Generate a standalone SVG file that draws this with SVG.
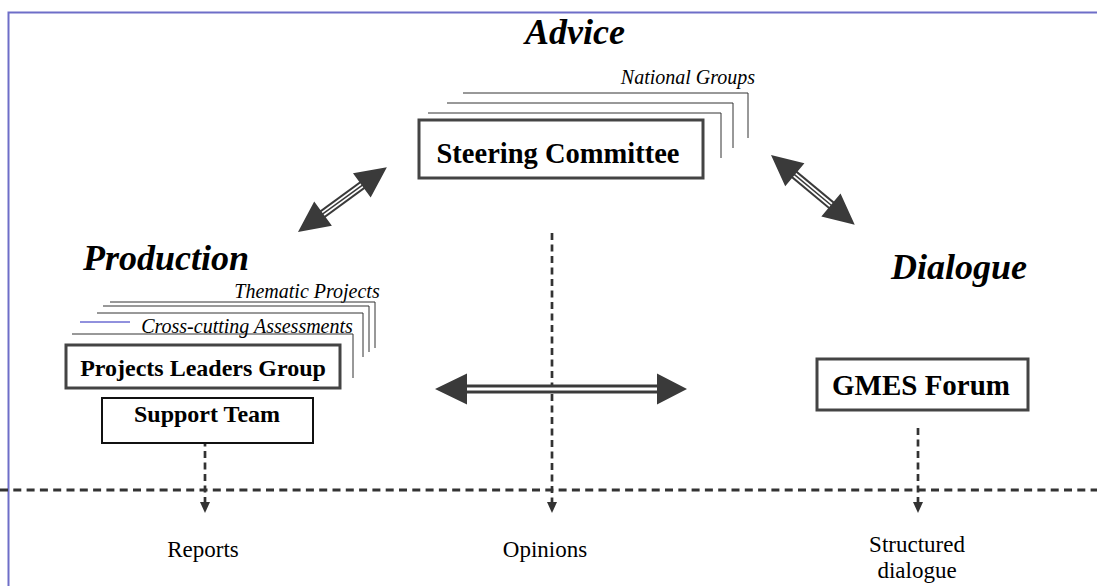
<svg xmlns="http://www.w3.org/2000/svg" width="1097" height="586" viewBox="0 0 1097 586">
<style>
.frame{stroke:#6e6ec8;stroke-width:2;fill:none}
.box{fill:#fff;stroke:#444;stroke-width:3}
.box2{fill:#fff;stroke:#111;stroke-width:2}
.stack{fill:none;stroke:#333;stroke-width:1}
.head{fill:#3a3a3a}
.shaftO{stroke:#3a3a3a;stroke-width:9;fill:none}
.shaftI{stroke:#fff;stroke-width:5;fill:none}
.shaftC{stroke:#3a3a3a;stroke-width:1.5;fill:none}
.dash{stroke:#333;stroke-width:2.7;stroke-dasharray:7,4.5;fill:none}
.hdash{stroke:#333;stroke-width:3;stroke-dasharray:8,5.3;fill:none}
.title{font-family:"Liberation Serif",serif;font-weight:bold;font-style:italic;font-size:36px;fill:#000}
.ital{font-family:"Liberation Serif",serif;font-style:italic;font-size:20px;fill:#000}
.bold{font-family:"Liberation Serif",serif;font-weight:bold;fill:#000}
.reg{font-family:"Liberation Serif",serif;font-size:23px;fill:#000}
</style>
<defs>
<path id="smallhead" d="M-5,-11 L5,-11 L0,0 Z" fill="#333"/>
</defs>
<path class="frame" d="M8.5,586 V12.5 H1097"/>
<g id="connectors">
  <line class="hdash" x1="0" y1="490" x2="1097" y2="490"/>
  <line class="dash" x1="205" y1="428" x2="205" y2="503"/>
  <use href="#smallhead" x="205" y="513"/>
  <line class="dash" x1="552" y1="233" x2="552" y2="503"/>
  <use href="#smallhead" x="552" y="513"/>
  <line class="dash" x1="918" y1="428" x2="918" y2="503"/>
  <use href="#smallhead" x="918" y="513"/>
  <g id="arrow-left-diag" transform="translate(298,232) rotate(-36.1)">
    <line class="shaftO" x1="30" y1="0" x2="80" y2="0"/>
    <line class="shaftI" x1="29" y1="0" x2="81" y2="0"/>
    <line class="shaftC" x1="29" y1="0" x2="81" y2="0"/>
    <path class="head" d="M0,0 L31,-15 L31,15 Z M110,0 L79,-15 L79,15 Z"/>
  </g>
  <g id="arrow-right-diag" transform="translate(771,155) rotate(39.8)">
    <line class="shaftO" x1="30" y1="0" x2="79" y2="0"/>
    <line class="shaftI" x1="29" y1="0" x2="80" y2="0"/>
    <line class="shaftC" x1="29" y1="0" x2="80" y2="0"/>
    <path class="head" d="M0,0 L31,-15 L31,15 Z M109,0 L78,-15 L78,15 Z"/>
  </g>
  <g id="arrow-horizontal" transform="translate(435,389)">
    <line stroke="#3a3a3a" stroke-width="9" x1="30" y1="0" x2="222" y2="0"/>
    <line stroke="#fff" stroke-width="3" x1="29" y1="0" x2="223" y2="0"/>
    <path class="head" d="M0,0 L32,-15.5 L32,15.5 Z M252,0 L222,-15.5 L222,15.5 Z"/>
  </g>
</g>
<g id="advice">
  <text class="title" x="575" y="44" text-anchor="middle">Advice</text>
</g>
<g id="national-groups">
  <text class="ital" x="688" y="84" text-anchor="middle" font-size="19">National Groups</text>
  <path class="stack" d="M463,93 H748 V138 M447,103 H733 V148 M428,113 H721 V158"/>
</g>
<g id="steering-committee">
  <rect class="box" x="419" y="120" width="284" height="58"/>
  <text class="bold" x="558" y="163" text-anchor="middle" font-size="28.5">Steering Committee</text>
</g>
<g id="production">
  <text class="title" x="166" y="270" text-anchor="middle">Production</text>
</g>
<g id="dialogue">
  <text class="title" x="959" y="279" text-anchor="middle">Dialogue</text>
</g>
<g id="thematic-projects">
  <text class="ital" x="307" y="298" text-anchor="middle" font-size="20.5">Thematic Projects</text>
  <path class="stack" d="M110,302 H375 V348 M103,306 H369 V352 M97,313 H363 V357 M72,334 H353 V378"/>
  <line x1="80" y1="322" x2="130" y2="322" stroke="#2222bb" stroke-width="1"/>
</g>
<g id="cross-cutting">
  <text class="ital" x="247" y="333" text-anchor="middle" font-size="19.5">Cross-cutting Assessments</text>
</g>
<g id="projects-leaders-group">
  <rect class="box" x="66" y="345" width="274" height="43"/>
  <text class="bold" x="203" y="376" text-anchor="middle" font-size="24">Projects Leaders Group</text>
</g>
<g id="support-team">
  <rect class="box2" x="102" y="398" width="211" height="45"/>
  <text class="bold" x="207" y="422" text-anchor="middle" font-size="24">Support Team</text>
</g>
<g id="gmes-forum">
  <rect class="box" x="817" y="359" width="211" height="51"/>
  <text class="bold" x="921" y="395" text-anchor="middle" font-size="29">GMES Forum</text>
</g>
<g id="reports">
  <text class="reg" x="203" y="557" text-anchor="middle">Reports</text>
</g>
<g id="opinions">
  <text class="reg" x="545" y="557" text-anchor="middle">Opinions</text>
</g>
<g id="structured-dialogue">
  <text class="reg" x="917" y="552" text-anchor="middle">Structured</text>
  <text class="reg" x="917" y="578" text-anchor="middle">dialogue</text>
</g>
</svg>
